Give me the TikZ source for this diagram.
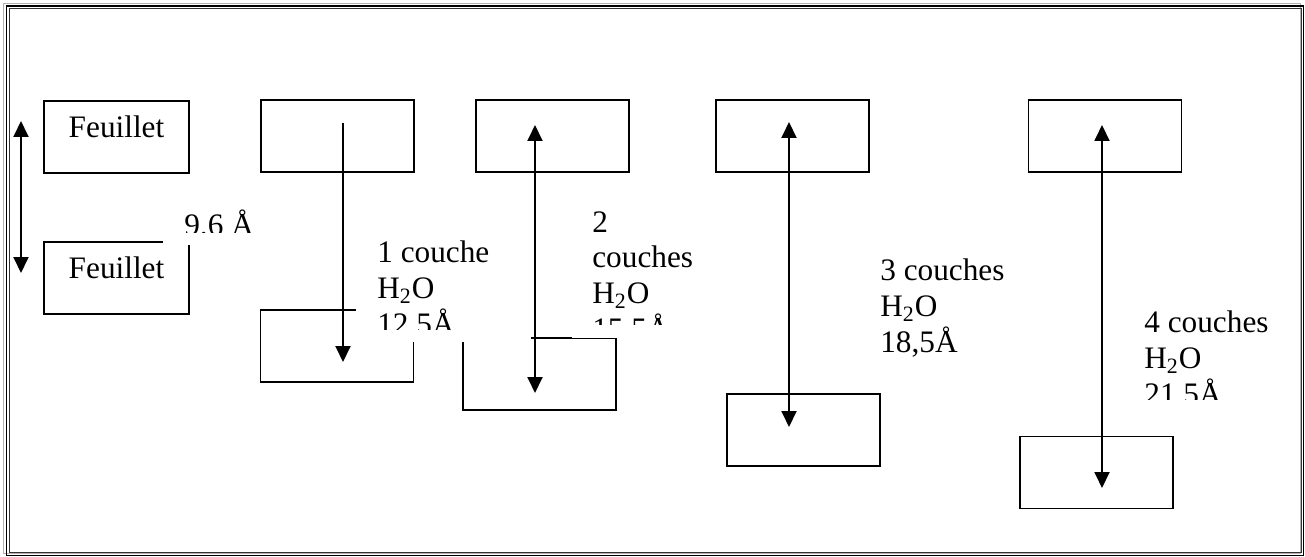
\documentclass[tikz,border=0pt]{standalone}
\usepackage{fontspec}
\setmainfont{Liberation Serif}
\usetikzlibrary{arrows.meta}
\newcommand{\lbl}{\fontsize{17.8pt}{20.4pt}\selectfont}
\tikzset{
  sheetbox/.style={draw=black,line width=1.1pt,minimum width=3.06cm,
    minimum height=1.44cm,inner sep=0pt,font=\lbl},
  feuillet/.style={sheetbox,minimum width=2.9cm,text depth=0.42cm},
  textcover/.style={fill=white,draw=none},
  layertext/.style={anchor=north west,inner sep=0pt,align=left,font=\lbl},
  gap/.style={{Triangle[length=0.32cm,width=0.3cm]}-{Triangle[length=0.32cm,width=0.3cm]},
    line width=1.1pt},
  drop/.style={-{Triangle[length=0.32cm,width=0.3cm]},line width=1.1pt}
}

\begin{document}
\begin{tikzpicture}[x=0.02cm,y=-0.02cm]
  \useasboundingbox (0,0) rectangle (1305,557);
  % frame
  \draw[gray!60,line width=0.035cm] (3.5,3.5) rectangle (1300.5,553.5);
  \draw[black,line width=0.03cm] (6.5,6) rectangle (1303.5,555.5);
  \draw[black!80,line width=0.02cm] (9.5,9) rectangle (1301,552);

  % sheets
  \node[feuillet] (f1) at (116.5,137) {Feuillet};
  \node[feuillet] (f2) at (116.5,278) {Feuillet};
  \node[sheetbox] (t1) at (337.5,136) {};
  \node[sheetbox] (t2) at (552.5,136) {};
  \node[sheetbox] (t3) at (792.5,136) {};
  \node[sheetbox] (t4) at (1105,136) {};
  \node[sheetbox] (b1) at (337,346) {};
  \node[sheetbox] (b2) at (539.5,374) {};
  \node[sheetbox] (b3) at (803.5,430) {};
  \node[sheetbox] (b4) at (1096.5,472.5) {};

  % text boxes
  \fill[textcover] (163,195) rectangle (262,245);
  \begin{scope}
    \clip (163,195) rectangle (262,233);
    \node[layertext] (d0) at (184,210) {9.6 Å};
  \end{scope}
  \fill[textcover] (356,222) rectangle (531,342);
  \begin{scope}
    \clip (356,222) rectangle (531,329);
    \node[layertext] (d1) at (377,240.6) {1 couche\\H\textsubscript{2}O\\12,5Å};
  \end{scope}
  \fill[textcover] (572,200) rectangle (712,338);
  \begin{scope}
    \clip (572,200) rectangle (712,324);
    \node[layertext] (d2) at (592,211) {2\\couches\\H\textsubscript{2}O\\15,5Å};
  \end{scope}
  \node[layertext] (d3) at (880,258.6) {3 couches\\H\textsubscript{2}O\\18,5Å};
  \begin{scope}
    \clip (1124,300) rectangle (1290,399);
    \node[layertext] (d4) at (1144,310.6) {4 couches\\H\textsubscript{2}O\\21,5Å};
  \end{scope}

  % spacings
  \coordinate (g0a) at (21,121);
  \coordinate (g0b) at (21,273);
  \coordinate (g1a) at (343,123);
  \coordinate (g1b) at (343,362);
  \coordinate (g2a) at (535,125);
  \coordinate (g2b) at (535,393);
  \coordinate (g3a) at (789,122);
  \coordinate (g3b) at (789,427);
  \coordinate (g4a) at (1102,125);
  \coordinate (g4b) at (1102,488);
  \draw[gap] (g0a) -- (g0b);
  \draw[drop] (g1a) -- (g1b);
  \draw[gap] (g2a) -- (g2b);
  \draw[gap] (g3a) -- (g3b);
  \draw[gap] (g4a) -- (g4b);
\end{tikzpicture}
\end{document}
